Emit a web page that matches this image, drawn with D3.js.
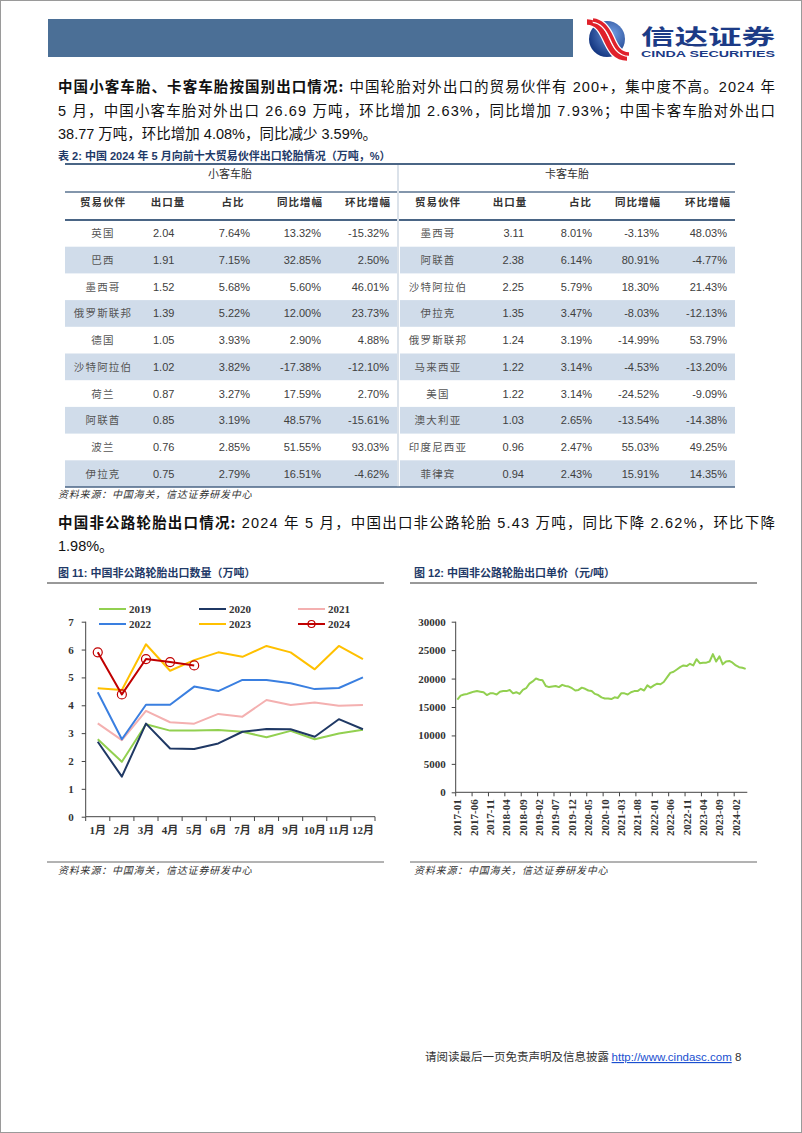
<!DOCTYPE html>
<html><head><meta charset="utf-8">
<script src="https://cdn.jsdelivr.net/npm/d3@7"></script>
<style>
html,body{margin:0;padding:0;background:#fff;}
svg{display:block;}
</style></head><body>
<svg id="page" width="802" height="1133"></svg>
<script>
// ---------------- DATA ----------------
const carPartners = ["英国","巴西","墨西哥","俄罗斯联邦","德国","沙特阿拉伯","荷兰","阿联酋","波兰","伊拉克"];
const carVolume = [2.04,1.91,1.52,1.39,1.05,1.02,0.87,0.85,0.76,0.75];
const carShare = [7.64,7.15,5.68,5.22,3.93,3.82,3.27,3.19,2.85,2.79];
const carYoy = [13.32,32.85,5.60,12.00,2.90,-17.38,17.59,48.57,51.55,16.51];
const carMom = [-15.32,2.50,46.01,23.73,4.88,-12.10,2.70,-15.61,93.03,-4.62];

const truckPartners = ["墨西哥","阿联酋","沙特阿拉伯","伊拉克","俄罗斯联邦","马来西亚","美国","澳大利亚","印度尼西亚","菲律宾"];
const truckVolume = [3.11,2.38,2.25,1.35,1.24,1.22,1.22,1.03,0.96,0.94];
const truckShare = [8.01,6.14,5.79,3.47,3.19,3.14,3.14,2.65,2.47,2.43];
const truckYoy = [-3.13,80.91,18.30,-8.03,-14.99,-4.53,-24.52,-13.54,55.03,15.91];
const truckMom = [48.03,-4.77,21.43,-12.13,53.79,-13.20,-9.09,-14.38,49.25,14.35];

const tableHeaders = ["贸易伙伴","出口量","占比","同比增幅","环比增幅"];

const months11 = ["1月","2月","3月","4月","5月","6月","7月","8月","9月","10月","11月","12月"];
const years11 = ["2019","2020","2021","2022","2023","2024"];
const v2019 = [2.78,1.97,3.32,3.09,3.09,3.11,3.05,2.85,3.08,2.78,2.99,3.12];
const v2020 = [2.69,1.44,3.34,2.45,2.43,2.63,3.05,3.15,3.14,2.87,3.50,3.14];
const v2021 = [3.35,2.75,3.80,3.39,3.34,3.69,3.59,4.19,4.01,4.10,3.98,4.01];
const v2022 = [4.47,2.78,4.02,4.02,4.67,4.51,4.91,4.91,4.79,4.58,4.62,5.00];
const v2023 = [4.61,4.55,6.19,5.24,5.62,5.90,5.74,6.13,5.90,5.29,6.13,5.66];
const v2024 = [5.90,4.39,5.66,5.55,5.43];
const yTicks11 = [0,1,2,3,4,5,6,7];

const priceValues = [16300,17000,17200,17300,17500,17700,17800,17700,17600,17100,
 17400,17400,17200,17700,17800,17800,18000,17400,17600,17300,
 18000,18300,19100,19500,20000,19800,19700,18700,18500,18600,
 18700,18500,18900,18700,18600,18300,17900,18000,18400,18200,
 17900,17800,17300,17100,16700,16500,16500,16400,16700,16600,
 17400,17400,17200,17600,17800,17800,18200,17900,18800,18400,
 18800,19100,19000,19400,20200,21000,21200,21600,22000,22300,
 22200,22600,22300,23400,22700,22800,22800,23000,24300,23000,
 23900,22500,23000,23100,22800,22300,22000,21900,21700];
const priceMonths = [];
for (let y = 2017; y <= 2024; y++) for (let m = 1; m <= 12; m++) {
  if (priceMonths.length < priceValues.length) priceMonths.push(y + "-" + String(m).padStart(2,"0"));
}
const priceTickLabels = ["2017-01","2017-06","2017-11","2018-04","2018-09","2019-02","2019-07","2019-12","2020-05","2020-10","2021-03","2021-08","2022-01","2022-06","2022-11","2023-04","2023-09","2024-02"];
const yTicks12 = [0,5000,10000,15000,20000,25000,30000];

// ---------------- PAGE ----------------
const svg = d3.select("#page");
const SANS = "'Liberation Sans','Noto Sans CJK SC',sans-serif";
const CJK = "'Noto Sans CJK SC',sans-serif";
const SERIF = "'Liberation Serif','Noto Sans CJK SC',serif";
const NAVY = "#1f3a68";

svg.append("rect").attr("x",0.5).attr("y",0.5).attr("width",801).attr("height",1132)
  .attr("fill","#fff").attr("stroke","#9a9a9a");

// header bar
svg.append("rect").attr("x",48).attr("y",19).attr("width",525).attr("height",38).attr("fill","#4b6f96");

// logo
const defs = svg.append("defs");
const rg = defs.append("radialGradient").attr("id","lg").attr("cx","65%").attr("cy","35%").attr("r","75%");
rg.append("stop").attr("offset","0%").attr("stop-color","#6f9be0");
rg.append("stop").attr("offset","100%").attr("stop-color","#0d2f7a");
const logo = svg.append("g").attr("transform","translate(607,39)");
logo.append("circle").attr("r",18).attr("fill","url(#lg)");
[["M-20,-17 C-8,-17 -4,-6 0,2 S8,19 20,19",5.5],["M-14,-19 C-3,-18 2,-8 5,-1 S12,15 22,15",3.5]].forEach(p=>{
  logo.append("path").attr("d",p[0]).attr("fill","none").attr("stroke","#fff").attr("stroke-width",p[1]+2.5);
  logo.append("path").attr("d",p[0]).attr("fill","none").attr("stroke","#e0212b").attr("stroke-width",p[1]);
});
svg.append("text").attr("x",641).attr("y",44).attr("font-family",CJK).attr("font-weight",700)
  .attr("font-size",21).attr("fill","#1c3b86").attr("textLength",134).attr("lengthAdjust","spacingAndGlyphs").text("信达证券");
svg.append("text").attr("x",641).attr("y",57).attr("font-family",SANS).attr("font-weight",700)
  .attr("font-size",9.5).attr("fill","#1c3b86").attr("textLength",134).attr("lengthAdjust","spacingAndGlyphs").text("CINDA SECURITIES");

// paragraph helper
function para(x, y, parts, len) {
  const t = svg.append("text").attr("x",x).attr("y",y).attr("font-family",SANS).attr("font-size",14.5).attr("fill","#111");
  parts.forEach(p => t.append("tspan").attr("font-weight",p[1]?700:400).attr("font-family",p[1]?CJK:SANS).text(p[0]));
  if (len) t.attr("textLength",len).attr("lengthAdjust","spacing");
  return t;
}
para(58,92,[["中国小客车胎、卡客车胎按国别出口情况:",1],[" 中国轮胎对外出口的贸易伙伴有 200+，集中度不高。2024 年",0]],717);
para(58,116,[["5 月，中国小客车胎对外出口 26.69 万吨，环比增加 2.63%，同比增加 7.93%；中国卡客车胎对外出口",0]],717);
para(58,139,[["38.77 万吨，环比增加 4.08%，同比减少 3.59%。",0]]);

// table title
svg.append("text").attr("x",58).attr("y",160).attr("font-family",SANS).attr("font-weight",700).attr("font-size",11)
  .attr("fill",NAVY).text("表 2: 中国 2024 年 5 月向前十大贸易伙伴出口轮胎情况（万吨，%）");

// ---------------- TABLE ----------------
const rowY = d3.scaleBand().domain(d3.range(10)).range([220,487]);
const fmtPct = v => v.toFixed(2) + "%";
function drawTable(x0, x1, title, titleX, partners, vol, share, yoy, mom, cols, heads) {
  const g = svg.append("g");
  g.selectAll("rect.sh").data(d3.range(10).filter(i=>i%2===1)).join("rect")
    .attr("x",x0).attr("width",x1-x0).attr("y",i=>rowY(i)).attr("height",rowY.bandwidth()).attr("fill","#d0dcea");
  g.append("text").attr("x",titleX).attr("y",178).attr("text-anchor","middle").attr("font-family",CJK)
    .attr("font-size",11).attr("fill","#333").text(title);
  heads.forEach((h,i)=>{
    g.append("text").attr("x",h[0]).attr("y",206).attr("text-anchor",h[1]).attr("font-family",CJK)
      .attr("font-weight",700).attr("font-size",10.5).attr("fill","#333").attr("letter-spacing",1).text(tableHeaders[i]);
  });
  const rows = d3.range(10);
  const colsData = [partners, vol.map(v=>v.toFixed(2)), share.map(fmtPct), yoy.map(fmtPct), mom.map(fmtPct)];
  colsData.forEach((arr,ci)=>{
    g.selectAll("text.c"+ci).data(rows).join("text")
      .attr("x",cols[ci][0]).attr("y",i=>rowY(i)+rowY.bandwidth()/2+4)
      .attr("text-anchor",cols[ci][1])
      .attr("font-family",ci===0?CJK:SANS).attr("font-size",ci===0?10.5:11)
      .attr("letter-spacing",ci===0?1.2:0)
      .attr("fill",ci===0?"#555":"#404040").text(i=>arr[i]);
  });
  return g;
}
drawTable(65,397,"小客车胎",230,carPartners,carVolume,carShare,carYoy,carMom,
  [[103,"middle"],[153,"start"],[250,"end"],[321,"end"],[389,"end"]],
  [[103,"middle"],[168,"middle"],[233,"middle"],[300,"middle"],[368,"middle"]]);
drawTable(400,735,"卡客车胎",567,truckPartners,truckVolume,truckShare,truckYoy,truckMom,
  [[438,"middle"],[524,"end"],[592,"end"],[659,"end"],[727,"end"]],
  [[438,"middle"],[510,"middle"],[592,"end"],[638,"middle"],[708,"middle"]]);
// lines
svg.append("line").attr("x1",65).attr("x2",735).attr("y1",164).attr("y2",164).attr("stroke","#4a6585").attr("stroke-width",2);
svg.append("line").attr("x1",65).attr("x2",735).attr("y1",192).attr("y2",192).attr("stroke","#5a7391").attr("stroke-width",1.5);
svg.append("line").attr("x1",65).attr("x2",735).attr("y1",220).attr("y2",220).attr("stroke","#4a6585").attr("stroke-width",2);
svg.append("line").attr("x1",65).attr("x2",735).attr("y1",487).attr("y2",487).attr("stroke","#4a6585").attr("stroke-width",1.5);
svg.append("line").attr("x1",398).attr("x2",398).attr("y1",165).attr("y2",486).attr("stroke","#dbe2ea").attr("stroke-width",2);

function source(x, y) {
  svg.append("text").attr("x",x).attr("y",y).attr("font-family",CJK).attr("font-style","italic")
    .attr("font-size",10).attr("fill","#333").attr("letter-spacing",0.8).text("资料来源：中国海关，信达证券研发中心");
}
source(58,498);

para(58,528,[["中国非公路轮胎出口情况:",1],["  2024 年 5 月，中国出口非公路轮胎 5.43 万吨，同比下降 2.62%，环比下降",0]],717);
para(58,551,[["1.98%。",0]]);

// figure titles
svg.append("text").attr("x",58).attr("y",577).attr("font-family",SANS).attr("font-weight",700).attr("font-size",11)
  .attr("fill",NAVY).text("图 11: 中国非公路轮胎出口数量（万吨）");
svg.append("text").attr("x",414).attr("y",577).attr("font-family",SANS).attr("font-weight",700).attr("font-size",11)
  .attr("fill",NAVY).text("图 12: 中国非公路轮胎出口单价（元/吨）");
[[47,384],[410,757]].forEach(r=>{
  svg.append("line").attr("x1",r[0]).attr("x2",r[1]).attr("y1",583).attr("y2",583).attr("stroke","#333").attr("stroke-width",1);
  svg.append("line").attr("x1",r[0]).attr("x2",r[1]).attr("y1",862).attr("y2",862).attr("stroke","#666").attr("stroke-width",1);
});
source(58,874);
source(414,874);

// ---------------- CHART 11 ----------------
const c11 = svg.append("g");
const x11 = d3.scaleBand().domain(months11).range([85.7,375]);
const y11 = d3.scaleLinear().domain([0,7]).range([816.7,621.7]);
const colors11 = {"2019":"#92d050","2020":"#1f3864","2021":"#f4b0b0","2022":"#3a7fe0","2023":"#ffc000","2024":"#c00000"};
const series11 = {"2019":v2019,"2020":v2020,"2021":v2021,"2022":v2022,"2023":v2023,"2024":v2024};

const ya11 = c11.append("g").attr("transform","translate(85.7,0)").call(d3.axisLeft(y11).tickValues(yTicks11).tickSize(4).tickPadding(8).tickFormat(d3.format("d")));
const xa11 = c11.append("g").attr("transform","translate(0,816.7)").call(d3.axisBottom(x11).tickSize(0).tickPadding(10));
// boundary ticks
c11.selectAll("line.bt").data(months11.map(m=>x11(m)).concat([x11.range()[1]])).join("line")
  .attr("x1",d=>d).attr("x2",d=>d).attr("y1",816.7).attr("y2",821).attr("stroke","#444");
[ya11,xa11].forEach(a=>{
  a.select(".domain").attr("stroke","#444");
  a.selectAll(".tick line").attr("stroke","#444");
  a.selectAll("text").attr("font-family",SERIF).attr("font-weight",700).attr("font-size",11).attr("fill","#333");
});
xa11.select(".domain").attr("d","M85.7,0H375");
ya11.select(".domain").attr("d","M0,816.7V621.7");

const line11 = d3.line().x((d,i)=>x11(months11[i])+x11.bandwidth()/2).y(d=>y11(d));
years11.forEach(yr=>{
  c11.append("path").datum(series11[yr]).attr("d",line11).attr("fill","none")
    .attr("stroke",colors11[yr]).attr("stroke-width",2).attr("stroke-linejoin","round");
});
c11.selectAll("circle.m24").data(v2024).join("circle")
  .attr("cx",(d,i)=>x11(months11[i])+x11.bandwidth()/2).attr("cy",d=>y11(d)).attr("r",4.5)
  .attr("fill","none").attr("stroke","#c00000").attr("stroke-width",1.2);

// legend
const legPos = [[99,609],[199,609],[298,609],[99,624],[199,624],[298,624]];
years11.forEach((yr,i)=>{
  const [lx,ly] = legPos[i];
  c11.append("line").attr("x1",lx).attr("x2",lx+27).attr("y1",ly).attr("y2",ly).attr("stroke",colors11[yr]).attr("stroke-width",2);
  if (yr==="2024") c11.append("circle").attr("cx",lx+13.5).attr("cy",ly).attr("r",3.5).attr("fill","none").attr("stroke","#c00000").attr("stroke-width",1.2);
  c11.append("text").attr("x",lx+30).attr("y",ly+4).attr("font-family",SERIF).attr("font-weight",700)
    .attr("font-size",11).attr("fill","#333").text(yr);
});

// ---------------- CHART 12 ----------------
const c12 = svg.append("g");
const x12 = d3.scaleBand().domain(priceMonths).range([455.7,747.3]);
const y12 = d3.scaleLinear().domain([0,30000]).range([792.3,621.7]);
const ya12 = c12.append("g").attr("transform","translate(455.7,0)").call(d3.axisLeft(y12).tickValues(yTicks12).tickSize(4).tickPadding(6).tickFormat(d3.format("d")));
const xa12 = c12.append("g").attr("transform","translate(0,792.3)").call(d3.axisBottom(x12).tickValues(priceTickLabels).tickSize(4));
[ya12,xa12].forEach(a=>{
  a.select(".domain").attr("stroke","#444");
  a.selectAll(".tick line").attr("stroke","#444");
  a.selectAll("text").attr("font-family",SERIF).attr("font-weight",700).attr("font-size",11).attr("fill","#333");
});
xa12.select(".domain").attr("d","M455.7,0H747.3");
ya12.select(".domain").attr("d","M0,792.3V621.7");
xa12.selectAll(".tick line").attr("transform","translate(-" + (x12.bandwidth()/2) + ",0)");
xa12.selectAll("text").attr("transform","rotate(-90)").attr("text-anchor","end").attr("x",-7).attr("y",0).attr("dy","0.35em");

const line12 = d3.line().x((d,i)=>x12(priceMonths[i])+x12.bandwidth()/2).y(d=>y12(d));
c12.append("path").datum(priceValues).attr("d",line12).attr("fill","none").attr("stroke","#92d050")
  .attr("stroke-width",2).attr("stroke-linejoin","round");

// ---------------- FOOTER ----------------
const ft = svg.append("text").attr("x",425).attr("y",1061).attr("font-family",SANS).attr("font-size",11.5).attr("fill","#333");
ft.append("tspan").attr("font-family",CJK).text("请阅读最后一页免责声明及信息披露 ");
ft.append("tspan").attr("fill","#1a4fd0").attr("text-decoration","underline").text("http://www.cindasc.com");
ft.append("tspan").text(" 8");
</script>
</body></html>
